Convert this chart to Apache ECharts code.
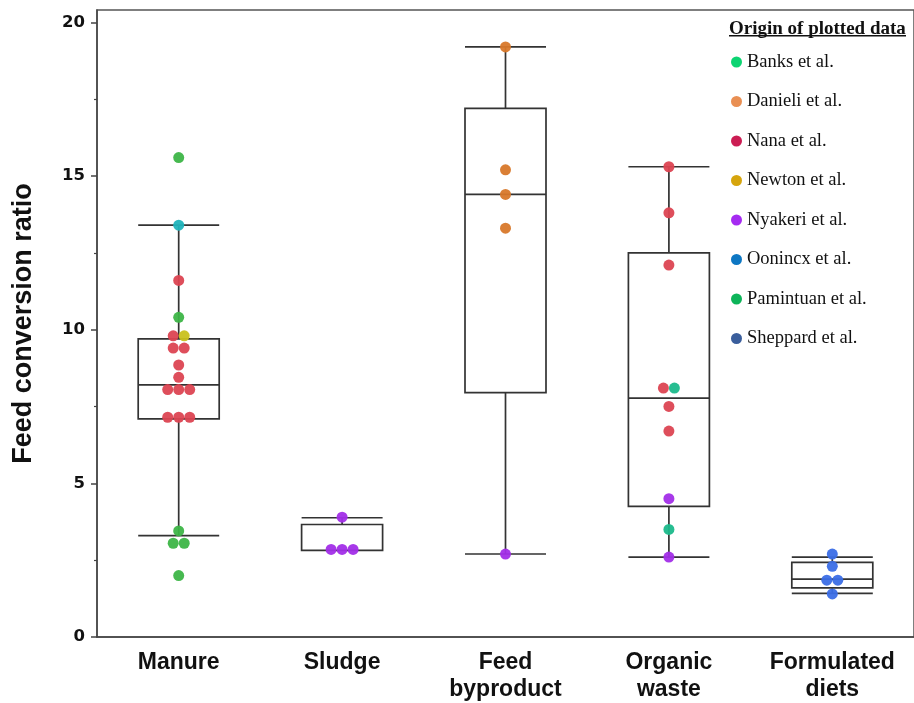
<!DOCTYPE html>
<html>
<head>
<meta charset="utf-8">
<script src="https://cdn.jsdelivr.net/npm/echarts@6/dist/echarts.min.js"></script>
<style>
html,body{margin:0;padding:0;background:#fff;}
#chart{width:914px;height:703px;}
</style>
</head>
<body>
<div id="chart"></div>
<script>
// ---------- data ----------
const categories = ['Manure', 'Sludge', 'Feed\nbyproduct', 'Organic\nwaste', 'Formulated\ndiets'];
const yTickLabels = [0, 5, 10, 15, 20];
const yMinorTicks = [2.5, 7.5, 12.5, 17.5];

// box statistics per category
const boxMin    = [3.3, 2.82, 2.7, 2.6, 1.42];
const boxQ1     = [7.1, 2.82, 7.95, 4.25, 1.6];
const boxMedian = [8.2, 2.82, 14.4, 7.77, 1.88];
const boxQ3     = [9.7, 3.66, 17.2, 12.5, 2.43];
const boxMax    = [13.4, 3.88, 19.2, 15.3, 2.6];

// data origin (legend)
const sources = ['Banks et al.', 'Danieli et al.', 'Nana et al.', 'Newton et al.', 'Nyakeri et al.', 'Oonincx et al.', 'Pamintuan et al.', 'Sheppard et al.'];
const legendColors = ['#00d26a', '#e8894a', '#c8114a', '#d4a000', '#a020f0', '#0070c0', '#00b050', '#2f5597'];
const dotColors    = ['#1bb98b', '#d8782a', '#dc4452', '#c9c11f', '#a22ee8', '#20b4bc', '#3db547', '#3b6ee6'];

// individual points
const manureValues  = [15.6, 13.4, 11.6, 10.4, 9.8, 9.8, 9.4, 9.4, 8.85, 8.45, 8.05, 8.05, 8.05, 7.15, 7.15, 7.15, 3.45, 3.05, 3.05, 2.0];
const manureSources = ['Pamintuan et al.', 'Oonincx et al.', 'Nana et al.', 'Pamintuan et al.', 'Nana et al.', 'Newton et al.', 'Nana et al.', 'Nana et al.', 'Nana et al.', 'Nana et al.', 'Nana et al.', 'Nana et al.', 'Nana et al.', 'Nana et al.', 'Nana et al.', 'Nana et al.', 'Pamintuan et al.', 'Pamintuan et al.', 'Pamintuan et al.', 'Pamintuan et al.'];
const sludgeValues  = [3.9, 2.85, 2.85, 2.85];
const sludgeSources = ['Nyakeri et al.', 'Nyakeri et al.', 'Nyakeri et al.', 'Nyakeri et al.'];
const feedValues    = [19.2, 15.2, 14.4, 13.3, 2.7];
const feedSources   = ['Danieli et al.', 'Danieli et al.', 'Danieli et al.', 'Danieli et al.', 'Nyakeri et al.'];
const organicValues = [15.3, 13.8, 12.1, 8.1, 8.1, 7.5, 6.7, 4.5, 3.5, 2.6];
const organicSources= ['Nana et al.', 'Nana et al.', 'Nana et al.', 'Nana et al.', 'Banks et al.', 'Nana et al.', 'Nana et al.', 'Nyakeri et al.', 'Banks et al.', 'Nyakeri et al.'];
const formulatedValues  = [2.7, 2.3, 1.85, 1.85, 1.4];
const formulatedSources = ['Sheppard et al.', 'Sheppard et al.', 'Sheppard et al.', 'Sheppard et al.', 'Sheppard et al.'];

// ---------- build ----------
const DOT_GAP = 11;
const catPoints = [
  [manureValues, manureSources],
  [sludgeValues, sludgeSources],
  [feedValues, feedSources],
  [organicValues, organicSources],
  [formulatedValues, formulatedSources]
];
const seriesData = sources.map(() => []);
catPoints.forEach(([vals, srcs], ci) => {
  const groups = new Map();
  vals.forEach((v, i) => {
    if (!groups.has(v)) groups.set(v, []);
    groups.get(v).push(i);
  });
  groups.forEach(idxs => {
    idxs.forEach((i, k) => {
      const off = (k - (idxs.length - 1) / 2) * DOT_GAP;
      const s = sources.indexOf(srcs[i]);
      seriesData[s].push({ value: [ci, vals[i]], symbolOffset: [off, 0] });
    });
  });
});

const boxData = categories.map((c, i) => [boxMin[i], boxQ1[i], boxMedian[i], boxQ3[i], boxMax[i]]);

const chart = echarts.init(document.getElementById('chart'), null, { renderer: 'canvas' });
const option = {
  animation: false,
  backgroundColor: '#fff',
  grid: { left: 97, top: 10, right: -7, bottom: 61, show: true, borderColor: '#555', borderWidth: 1.5, backgroundColor: 'transparent' },
  xAxis: {
    type: 'category',
    data: categories,
    boundaryGap: true,
    axisLine: { lineStyle: { color: '#444', width: 1.5 } },
    axisTick: { show: false },
    axisLabel: { fontFamily: 'Liberation Sans', fontWeight: 'bold', fontSize: 23, color: '#111', lineHeight: 27, margin: 12, interval: 0 },
    splitLine: { show: false }
  },
  yAxis: [{
    type: 'value',
    min: 0, max: 20.4,
    name: 'Feed conversion ratio',
    nameLocation: 'middle',
    nameGap: 60,
    nameTextStyle: { fontFamily: 'Liberation Sans', fontWeight: 'bold', fontSize: 27, color: '#111' },
    axisLine: { show: true, lineStyle: { color: '#444', width: 1.5 } },
    axisTick: { show: true, length: 6, customValues: yTickLabels, lineStyle: { color: '#444', width: 1.5 } },
    axisLabel: { customValues: yTickLabels, fontFamily: 'DejaVu Sans', fontWeight: 'bold', fontSize: 16.5, color: '#111', margin: 12 },
    splitLine: { show: false }
  }, {
    type: 'value',
    min: 0, max: 20.4,
    position: 'left',
    axisLine: { show: false },
    axisTick: { show: true, length: 3, customValues: yMinorTicks, lineStyle: { color: '#444', width: 1.2 } },
    axisLabel: { show: false },
    splitLine: { show: false }
  }],
  title: {
    text: 'Origin of plotted data',
    left: 724, top: 15,
    textStyle: { fontFamily: 'Liberation Serif', fontWeight: 'bold', fontSize: 19, color: '#111' }
  },
  graphic: [{
    type: 'rect',
    shape: { x: 729, y: 35, width: 177, height: 1.5 },
    style: { fill: '#111' },
    silent: true
  }],
  legend: {
    orient: 'vertical',
    left: 726, top: 47,
    icon: 'circle',
    itemWidth: 11, itemHeight: 11,
    itemGap: 19.5,
    textStyle: { fontFamily: 'Liberation Serif', fontSize: 18.5, color: '#111', lineHeight: 20 },
    data: sources.map((s, i) => ({ name: s, itemStyle: { color: legendColors[i] } })),
    selectedMode: false
  },
  series: [{
    type: 'boxplot',
    data: boxData,
    boxWidth: [81, 81],
    itemStyle: { color: '#fff', borderColor: '#333', borderWidth: 1.7 },
    z: 2,
    silent: true
  }].concat(sources.map((s, i) => ({
    type: 'scatter',
    name: s,
    data: seriesData[i],
    symbolSize: 11,
    itemStyle: { color: dotColors[i], opacity: 0.95 },
    z: 5,
    silent: true
  })))
};
chart.setOption(option);
</script>
</body>
</html>
